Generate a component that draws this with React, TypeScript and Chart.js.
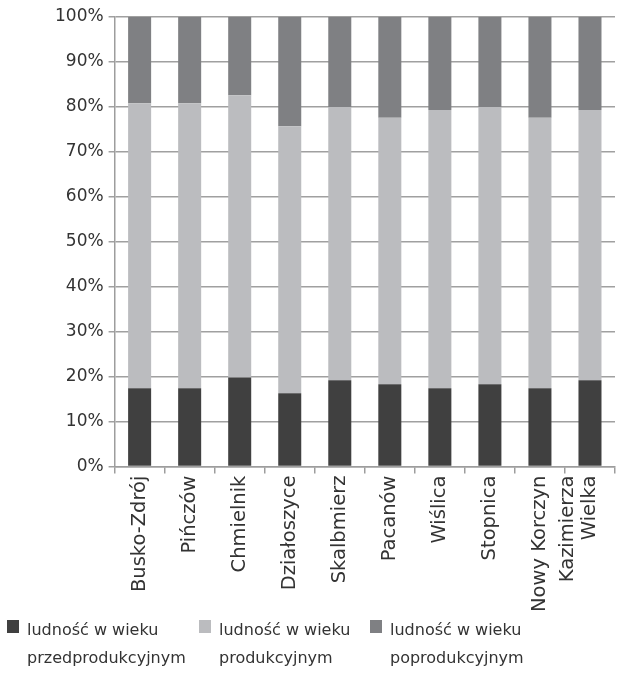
import React, { useEffect, useRef } from "react";
import { Chart, registerables } from "chart.js";

Chart.register(...registerables);

const categories: (string | string[])[] = [
  "Busko-Zdrój",
  "Pińczów",
  "Chmielnik",
  "Działoszyce",
  "Skalbmierz",
  "Pacanów",
  "Wiślica",
  "Stopnica",
  "Nowy Korczyn",
  ["Kazimierza", "Wielka"],
];

const preProductive = [17.4, 17.4, 19.8, 16.3, 19.2, 18.3, 17.4, 18.3, 17.4, 19.2];
const productive = [63.4, 63.4, 62.8, 59.4, 60.8, 59.3, 61.9, 61.7, 60.2, 60.1];
const postProductive = [19.2, 19.2, 17.4, 24.3, 20.0, 22.4, 20.7, 20.0, 22.4, 20.7];

const seriesLabels = [
  ["ludność w wieku", "przedprodukcyjnym"],
  ["ludność w wieku", "produkcyjnym"],
  ["ludność w wieku", "poprodukcyjnym"],
];

const yTicks = [0, 10, 20, 30, 40, 50, 60, 70, 80, 90, 100];

const FONT = "'DejaVu Sans', sans-serif";
const TEXT = "#333333";

const legendPlugin = {
  id: "customLegend",
  afterDraw(chart: any) {
    const ctx = chart.ctx;
    const cols = [7, 199, 370];
    const h = chart.height;
    ctx.save();
    ctx.font = `16px ${FONT}`;
    ctx.textBaseline = "alphabetic";
    ctx.textAlign = "left";
    chart.data.datasets.forEach((ds: any, i: number) => {
      const x = cols[i];
      ctx.fillStyle = ds.backgroundColor;
      ctx.fillRect(x, h - 57, 12, 13);
      ctx.fillStyle = TEXT;
      const lines: string[] = ds.label.split("\n");
      lines.forEach((line, j) => {
        ctx.fillText(line, x + 20, h - 42 + j * 28);
      });
    });
    ctx.restore();
  },
};

// Multi-line rotated labels: keep the last line on the tick, earlier lines to its left.
const multilineLabelPlugin = {
  id: "multilineLabelShift",
  beforeDraw(chart: any) {
    const scale = chart.scales.x;
    if (!scale) return;
    const items = scale.getLabelItems();
    items.forEach((item: any) => {
      if (Array.isArray(item.label) && item.label.length > 1 && !item.__shifted) {
        const lh = item.font.lineHeight;
        item.textOffset -= lh * (item.label.length - 1);
        item.__shifted = true;
      }
    });
  },
};

export default function App() {
  const ref = useRef<HTMLCanvasElement | null>(null);
  useEffect(() => {
    if (!ref.current) return;
    const colors = ["#404040", "#bbbcbf", "#7f8083"];
    const values = [preProductive, productive, postProductive];
    const chart = new Chart(ref.current, {
      type: "bar",
      data: {
        labels: categories,
        datasets: values.map((v, i) => ({
          label: seriesLabels[i].join("\n"),
          data: v,
          backgroundColor: colors[i],
          borderWidth: 0,
          categoryPercentage: 1,
          barPercentage: 0.46,
        })),
      },
      plugins: [legendPlugin, multilineLabelPlugin],
      options: {
        animation: false,
        responsive: true,
        maintainAspectRatio: false,
        layout: { padding: { left: 50, right: 20, top: 17, bottom: 63 } },
        plugins: {
          legend: { display: false },
          tooltip: { enabled: false },
        },
        scales: {
          x: {
            stacked: true,
            offset: true,
            afterFit(scale: any) {
              scale.paddingRight = 0;
              scale.paddingLeft = 0;
            },
            grid: {
              offset: true,
              drawOnChartArea: false,
              drawTicks: true,
              tickLength: 7,
              color: "#9d9d9d",
              lineWidth: 1.5,
            },
            border: { color: "#9d9d9d", width: 1.5 },
            ticks: {
              minRotation: 90,
              maxRotation: 90,
              autoSkip: false,
              color: TEXT,
              font: { family: FONT, size: 19.5, lineHeight: 1.15 },
              padding: 2,
            },
          },
          y: {
            stacked: true,
            min: 0,
            max: 100,
            afterFit(scale: any) {
              scale.paddingTop = 0;
              scale.paddingBottom = 0;
            },
            afterBuildTicks(axis: any) {
              axis.ticks = yTicks.map((v) => ({ value: v }));
            },
            grid: {
              color: "#a0a0a0",
              lineWidth: 1.5,
              tickLength: 6,
            },
            border: { color: "#9d9d9d", width: 1.5 },
            ticks: {
              color: TEXT,
              font: { family: FONT, size: 17 },
              padding: 5,
              callback: (v: any) => `${v}%`,
            },
          },
        },
      },
    });
    return () => chart.destroy();
  }, []);
  return (
    <div style={{ position: "absolute", left: 0, top: 0, width: 635, height: 677 }}>
      <canvas ref={ref} />
    </div>
  );
}
